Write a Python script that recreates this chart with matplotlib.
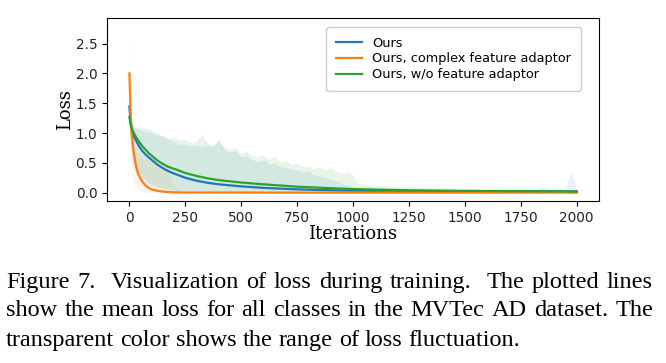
import re
import numpy as np
import matplotlib
matplotlib.use('Agg')
import matplotlib.pyplot as plt

# mean loss curves
mean_iters = [0, 5, 10, 15, 20, 30, 40, 50, 60, 75, 90, 100, 125, 150, 175, 200,
              250, 300, 350, 400, 500, 600, 750, 900, 1000, 1250, 1500, 1750, 2000]
ours_mean = [1.45, 1.2, 1.08, 1.0, 0.95, 0.87, 0.8, 0.74, 0.69, 0.63, 0.58, 0.55, 0.47, 0.41, 0.36, 0.32,
             0.25, 0.2, 0.165, 0.14, 0.105, 0.08, 0.055, 0.04, 0.033, 0.025, 0.02, 0.02, 0.02]
complex_mean = [2.0, 1.4, 1.0, 0.82, 0.65, 0.44, 0.31, 0.23, 0.17, 0.11, 0.07, 0.055, 0.03, 0.018, 0.01, 0.006,
                0.003, 0.002, 0.002, 0.002, 0.002, 0.001, 0.001, 0.001, 0.001, 0.001, 0.001, 0.001, 0.001]
woadaptor_mean = [1.27, 1.15, 1.08, 1.04, 1.0, 0.93, 0.87, 0.82, 0.77, 0.71, 0.65, 0.62, 0.54, 0.48, 0.43, 0.40,
                  0.33, 0.28, 0.24, 0.21, 0.17, 0.14, 0.10, 0.075, 0.06, 0.04, 0.03, 0.025, 0.02]

# fluctuation ranges
band_iters = [0, 10] + list(range(25, 2001, 25))
ours_hi = [1.6, 1.2, 1.1, 1.1, 1.08, 1.05, 1.0, 0.95, 0.9, 0.85, 0.8, 0.82, 0.78, 0.8, 0.76, 0.8,
           0.78, 0.9, 0.72, 0.68, 0.7, 0.6, 0.62, 0.55, 0.52, 0.55, 0.48, 0.5, 0.44, 0.42, 0.4, 0.38,
           0.35, 0.36, 0.3, 0.28, 0.25, 0.22, 0.2, 0.16, 0.12, 0.1, 0.08, 0.07, 0.06, 0.06, 0.05, 0.05,
           0.05, 0.05, 0.05, 0.05, 0.05, 0.05, 0.05, 0.05, 0.05, 0.05, 0.05, 0.05, 0.05, 0.05, 0.05, 0.05,
           0.05, 0.05, 0.05, 0.05, 0.05, 0.05, 0.05, 0.05, 0.05, 0.05, 0.05, 0.1, 0.05, 0.04, 0.04, 0.05,
           0.35, 0.05]
ours_lo = [1.1, 0.6, 0.35, 0.22, 0.15, 0.1, 0.07, 0.05, 0.04, 0.03, 0.03, 0.025, 0.02, 0.02, 0.02, 0.015,
           0.015, 0.01, 0.01, 0.01, 0.01, 0.01, 0.01, 0.01, 0.01, 0.01, 0.01, 0.01, 0.01, 0.01, 0.01, 0.01,
           0.01, 0.01, 0.01, 0.01, 0.01, 0.01, 0.01, 0.01, 0.01, 0.01, 0.01, 0.01, 0.01, 0.01, 0.01, 0.01,
           0.01, 0.01, 0.01, 0.01, 0.01, 0.01, 0.01, 0.01, 0.01, 0.01, 0.01, 0.01, 0.01, 0.01, 0.01, 0.01,
           0.01, 0.01, 0.01, 0.01, 0.01, 0.01, 0.01, 0.01, 0.01, 0.01, 0.01, 0.01, 0.01, 0.01, 0.01, 0.01,
           0.01, 0.01]
woadaptor_hi = [1.35, 1.15, 1.08, 1.05, 1.02, 1.0, 0.97, 0.95, 0.9, 0.93, 0.87, 0.9, 0.84, 0.86, 0.98, 0.82,
                0.8, 0.86, 0.76, 0.72, 0.75, 0.66, 0.7, 0.62, 0.6, 0.64, 0.56, 0.6, 0.52, 0.54, 0.47, 0.5,
                0.43, 0.45, 0.4, 0.44, 0.38, 0.42, 0.36, 0.33, 0.35, 0.3, 0.15, 0.14, 0.13, 0.12, 0.12, 0.11,
                0.1, 0.1, 0.1, 0.09, 0.1, 0.09, 0.08, 0.09, 0.07, 0.08, 0.07, 0.07, 0.05, 0.07, 0.05, 0.06,
                0.05, 0.06, 0.05, 0.05, 0.05, 0.05, 0.05, 0.05, 0.05, 0.05, 0.05, 0.05, 0.05, 0.05, 0.05, 0.05,
                0.05, 0.04]
woadaptor_lo = [1.0, 0.75, 0.5, 0.3, 0.2, 0.14, 0.1, 0.08, 0.06, 0.05, 0.04, 0.035, 0.03, 0.03, 0.03, 0.03,
                0.025, 0.025, 0.025, 0.02, 0.02, 0.02, 0.02, 0.02, 0.02, 0.02, 0.02, 0.02, 0.02, 0.02, 0.02, 0.02,
                0.02, 0.02, 0.02, 0.02, 0.02, 0.02, 0.015, 0.015, 0.015, 0.015, 0.015, 0.015, 0.015, 0.015, 0.015, 0.015,
                0.01, 0.01, 0.01, 0.01, 0.01, 0.01, 0.01, 0.01, 0.01, 0.01, 0.01, 0.01, 0.01, 0.01, 0.01, 0.01,
                0.01, 0.01, 0.01, 0.01, 0.01, 0.01, 0.01, 0.01, 0.01, 0.01, 0.01, 0.01, 0.01, 0.01, 0.01, 0.01,
                0.01, 0.01]
complex_band_iters = [0, 3, 6, 10, 15, 20, 30, 40, 50, 75, 100, 125, 150, 175, 200, 225, 250, 300, 2000]
complex_hi = [2.8, 2.2, 1.6, 1.2, 0.95, 0.8, 0.68, 0.62, 0.58, 0.55, 0.52, 0.48, 0.42, 0.3, 0.12, 0.04, 0.02, 0.01, 0.01]
complex_lo = [1.2, 0.9, 0.6, 0.4, 0.25, 0.15, 0.08, 0.04, 0.02, 0.01, 0.005, 0.0, 0.0, 0.0, 0.0, 0.0, 0.0, 0.0, 0.0]

labels = ['Ours', 'Ours, complex feature adaptor', 'Ours, w/o feature adaptor']
caption = ["Figure 7.  Visualization of loss during training.  The plotted lines",
           "show the mean loss for all classes in the MVTec AD dataset. The",
           "transparent color shows the range of loss fluctuation."]

fig = plt.figure(figsize=(6.66, 3.63), dpi=100)
ax = fig.add_axes([0.1607, 0.4463, 0.7387, 0.5041])

ax.fill_between(band_iters, ours_lo, ours_hi, color='tab:blue', alpha=0.1, lw=0)
ax.fill_between(complex_band_iters, complex_lo, complex_hi, color='tab:orange', alpha=0.08, lw=0)
ax.fill_between(band_iters, woadaptor_lo, woadaptor_hi, color='tab:green', alpha=0.1, lw=0)
ax.plot(mean_iters, ours_mean, color='tab:blue', lw=1.6, label=labels[0])
ax.plot(mean_iters, complex_mean, color='tab:orange', lw=1.6, label=labels[1])
ax.plot(mean_iters, woadaptor_mean, color='tab:green', lw=1.6, label=labels[2])

ax.set_xlim(-100, 2100)
ax.set_ylim(-0.14, 2.93)
ax.set_xticks([0, 250, 500, 750, 1000, 1250, 1500, 1750, 2000])
ax.set_yticks([0.0, 0.5, 1.0, 1.5, 2.0, 2.5])
ax.tick_params(labelsize=9.8, labelcolor='#222222')
ax.set_xlabel('Iterations', family='DejaVu Serif', fontsize=13, labelpad=0)
ax.set_ylabel('Loss', family='DejaVu Serif', fontsize=13, labelpad=1)
ax.legend(loc='upper right', fontsize=9.3, labelspacing=0.2, borderpad=0.75,
          bbox_to_anchor=(0.976, 0.985), framealpha=1)

# justified caption
renderer = fig.canvas.get_renderer()
W = fig.get_figwidth() * fig.dpi
H = fig.get_figheight() * fig.dpi
x_left, x_right = 6, 653
baselines = [288, 316.5, 346]
cap_size = 17.5
for i, line in enumerate(caption):
    parts = re.split(r'( +)', line)
    words = parts[0::2]
    gaps = [len(g) for g in parts[1::2]]
    texts = [fig.text(0, 1 - baselines[i] / H, w, family='Liberation Serif', fontsize=cap_size,
                      va='baseline', ha='left') for w in words]
    widths = [t.get_window_extent(renderer).width for t in texts]
    if i < len(caption) - 1:
        unit = (x_right - x_left - sum(widths)) / sum(gaps)
    else:
        unit = cap_size * 0.25 * fig.dpi / 72
    x = x_left
    for j, t in enumerate(texts):
        t.set_x(x / W)
        x += widths[j]
        if j < len(gaps):
            x += gaps[j] * unit

fig.savefig('out.png', dpi=100)
